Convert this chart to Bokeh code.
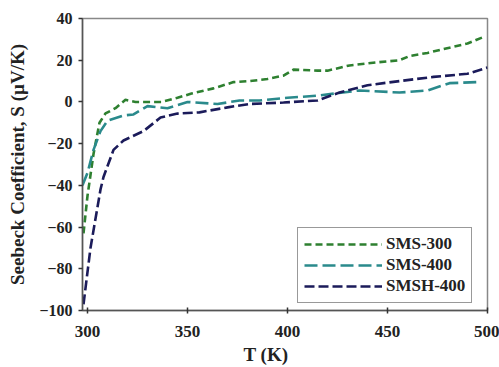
from bokeh.plotting import figure
from bokeh.models import Range1d, Legend, LegendItem, FixedTicker, Title
from bokeh.embed import file_html
from bokeh.resources import INLINE

# SMS-300
t_sms300 = [298, 300, 303, 306, 309, 314, 319, 324, 330, 337, 345, 352, 363, 373, 381, 390, 398, 403, 415, 420, 431, 445, 456, 461, 470, 481, 490, 499]
s_sms300 = [-63, -45, -25, -10, -5.5, -3, 1, 0, 0, 0, 2, 4, 6.5, 9.5, 10, 11, 12.6, 15.5, 15, 15, 17.5, 19, 20, 22, 23.5, 26, 28, 31.5]
# SMS-400
t_sms400 = [297.5, 300, 303, 306.5, 310, 318, 323, 330, 340, 350, 365, 376, 386, 400, 415, 436, 456, 470, 481, 495]
s_sms400 = [-40, -34, -23, -14, -9, -6.5, -6, -2, -3, 0, -1, 0.7, 0.7, 2, 3, 5.5, 4.5, 5.5, 9, 9.5]
# SMSH-400
t_smsh400 = [298, 301.5, 306.5, 308, 313, 318, 328, 336.5, 345, 356, 370, 381, 398, 415, 426, 440, 456, 473, 490, 500]
s_smsh400 = [-97, -70, -42, -36, -23, -18.5, -14, -7.5, -5.6, -5, -2.6, -1, -0.3, 0.7, 4.5, 8, 10, 12, 13.5, 16.5]

labels = ["SMS-300", "SMS-400", "SMSH-400"]
colors = ["#2e8030", "#2a8a8c", "#1b1b5a"]
dashes = ["7 4", "13 5", "10 4"]

FONT = "Liberation Serif"

p = figure(width=499, height=367, output_backend="svg", toolbar_location=None,
           x_range=Range1d(297.5, 500), y_range=Range1d(-100, 40),
           min_border_left=82, min_border_right=12, min_border_top=18, min_border_bottom=57)
p.grid.visible = False
p.outline_line_color = "#888888"
p.outline_line_width = 1.5

renderers = []
for t, s, c, d in zip([t_sms300, t_sms400, t_smsh400], [s_sms300, s_sms400, s_smsh400], colors, dashes):
    r = p.line(t, s, line_color=c, line_width=2.6, line_dash=d)
    renderers.append(r)

p.xaxis.ticker = FixedTicker(ticks=[300, 350, 400, 450, 500])
p.yaxis.ticker = FixedTicker(ticks=[-100, -80, -60, -40, -20, 0, 20, 40])
p.xaxis.minor_tick_line_color = None
p.yaxis.minor_tick_line_color = None
for ax in (p.xaxis, p.yaxis):
    ax.axis_line_color = "#555555"
    ax.axis_line_width = 1.5
    ax.major_tick_line_color = "#333333"
    ax.major_tick_line_width = 1.5
    ax.major_label_text_font = FONT
    ax.major_label_text_font_style = "bold"
    ax.major_label_text_color = "#222222"
    ax.axis_label_text_font = FONT
    ax.axis_label_text_font_style = "bold"
    ax.axis_label_text_color = "#222222"
p.xaxis.major_label_text_font_size = "17px"
p.yaxis.major_label_text_font_size = "16px"
p.yaxis.axis_label_text_font_size = "19px"
p.xaxis.major_tick_out = 3
p.xaxis.major_tick_in = 3
p.yaxis.major_tick_out = 4
p.yaxis.major_tick_in = 0
p.xaxis.major_label_standoff = 12
p.yaxis.major_label_standoff = 6
p.yaxis.axis_label = "Seebeck Coefficient, S (µV/K)"
p.yaxis.axis_label_standoff = 8

xtitle = Title(text="T (K)", align="left", offset=161, standoff=4,
               text_font=FONT, text_font_style="bold", text_font_size="19px",
               text_color="#222222")
p.add_layout(xtitle, "below")

legend = Legend(items=[LegendItem(label=l, renderers=[r]) for l, r in zip(labels, renderers)],
                location=(215, 7))
legend.glyph_width = 78
legend.glyph_height = 18
legend.label_standoff = 4
legend.spacing = 1
legend.padding = 6
legend.margin = 0
legend.border_line_color = "#333333"
legend.border_line_width = 1.2
legend.label_text_font = FONT
legend.label_text_font_style = "bold"
legend.label_text_font_size = "17px"
legend.label_text_color = "#222222"
legend.background_fill_alpha = 1
p.add_layout(legend, "center")

open("out.html", "w").write(file_html(p, INLINE))
